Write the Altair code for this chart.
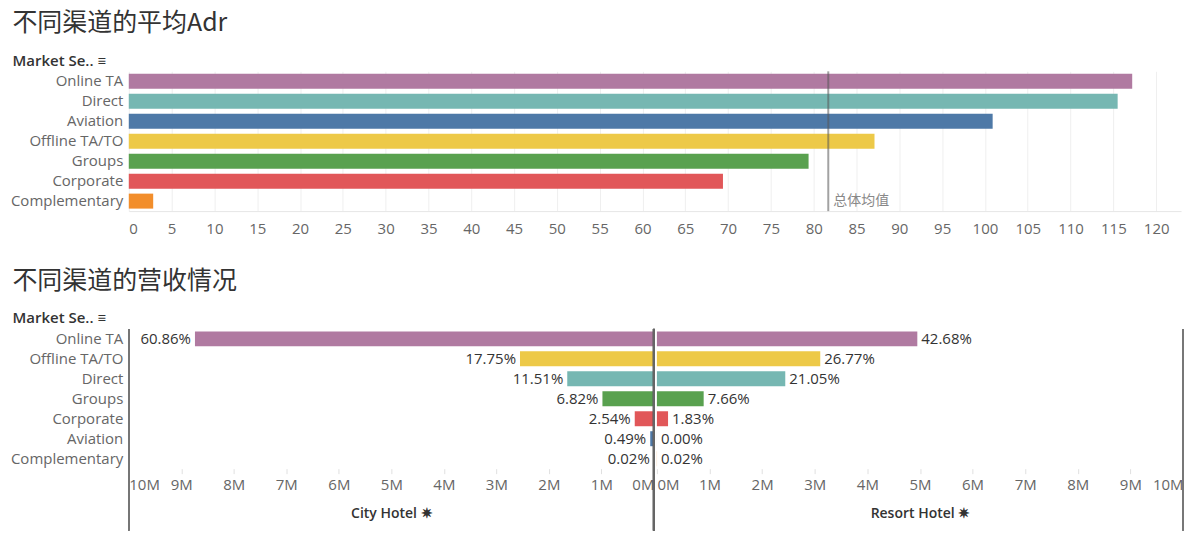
import altair as alt
import pandas as pd

# ---------------- data ----------------
adr_segments = ["Online TA", "Direct", "Aviation", "Offline TA/TO", "Groups", "Corporate", "Complementary"]
adr_values = [117.2, 115.5, 100.9, 87.1, 79.4, 69.4, 2.85]
adr_mean = [81.7]
adr_ticks = list(range(0, 121, 5))

rev_segments = ["Online TA", "Offline TA/TO", "Direct", "Groups", "Corporate", "Aviation", "Complementary"]
city_revenue = [8740000, 2550000, 1650000, 980000, 365000, 70000, 3000]
resort_revenue = [4950000, 3105000, 2440000, 889000, 212000, 400, 2300]
city_pct = ["60.86%", "17.75%", "11.51%", "6.82%", "2.54%", "0.49%", "0.02%"]
resort_pct = ["42.68%", "26.77%", "21.05%", "7.66%", "1.83%", "0.00%", "0.02%"]
rev_ticks = [0, 1000000, 2000000, 3000000, 4000000, 5000000, 6000000, 7000000, 8000000, 9000000, 10000000]

seg_colors = ["#b07aa1", "#76b7b2", "#4e79a7", "#edc948", "#59a14f", "#e15759", "#f28e2b"]

FONT = "Open Sans"
CJK = "Noto Sans CJK SC"

color_scale = alt.Scale(domain=adr_segments, range=seg_colors)

# ---------------- top chart ----------------
top_df = pd.DataFrame({"seg": adr_segments, "adr": adr_values})
mean_df = pd.DataFrame({"m": adr_mean})

y_axis_common = dict(
    title="Market Se.. \u2261", titleAngle=0, titleAlign="left", titleBaseline="middle",
    titleX=-117, titleY=-11, titleFontSize=15, titleFontWeight=600, titleColor="#333333",
    titleFont=FONT, labelFont=FONT, labelFontSize=15, labelColor="#666666", labelPadding=6,
    ticks=False, domain=False, grid=False,
)

y_top = alt.Y("seg:N", sort=adr_segments,
              scale=alt.Scale(paddingInner=0.25, paddingOuter=0.125),
              axis=alt.Axis(**y_axis_common))

x_top = alt.X("adr:Q", scale=alt.Scale(domain=[0, 122.9], nice=False, zero=True),
              axis=alt.Axis(values=adr_ticks, title=None, labelFont=FONT, labelFontSize=15,
                            labelColor="#666666", grid=True, gridColor="#efefef", domainColor="#e6e6e6",
                            ticks=False, labelPadding=10, labelFlush=True))

top_bars = alt.Chart(top_df).mark_bar().encode(
    x=x_top, y=y_top,
    color=alt.Color("seg:N", scale=color_scale, legend=None),
)
top_rule = alt.Chart(mean_df).mark_rule(color="#555555", strokeWidth=2, opacity=0.55).encode(x="m:Q")
top_txt = alt.Chart(mean_df).mark_text(text="总体均值", align="left", baseline="middle", dx=5,
                                       font=CJK, fontSize=14, color="#888888").encode(
    x="m:Q", y=alt.datum("Complementary"))

top = alt.layer(top_bars, top_rule, top_txt).properties(
    width=1054, height=140,
    title=alt.TitleParams("不同渠道的平均Adr", anchor="start", font=CJK, fontSize=25,
                          fontWeight="normal", color="#333333", offset=17, dx=2),
)

# ---------------- bottom chart ----------------
bot_df = pd.DataFrame({"seg": rev_segments, "city": city_revenue, "resort": resort_revenue,
                       "city_pct": city_pct, "resort_pct": resort_pct})

y_bot_left = alt.Y("seg:N", sort=rev_segments,
                   scale=alt.Scale(paddingInner=0.25, paddingOuter=0.125),
                   axis=alt.Axis(**y_axis_common))
y_bot_right = alt.Y("seg:N", sort=rev_segments,
                    scale=alt.Scale(paddingInner=0.25, paddingOuter=0.125), axis=None)

def rev_axis(title):
    return alt.Axis(values=rev_ticks, title=title, labelExpr="datum.value / 1000000 + 'M'",
                    labelFont=FONT, labelFontSize=15, labelColor="#666666", grid=False,
                    domain=False, ticks=True, tickColor="#e0e0e0", tickSize=5, labelPadding=4,
                    labelFlush=True, titleFont=FONT, titleFontSize=14, titleFontWeight=600,
                    titleColor="#333333", titlePadding=14)

x_left = alt.X("city:Q", scale=alt.Scale(domain=[0, 10000000], nice=False, reverse=True),
               axis=rev_axis("City Hotel  \u2737"))
x_right = alt.X("resort:Q", scale=alt.Scale(domain=[0, 10000000], nice=False),
                axis=rev_axis("Resort Hotel  \u2737"))

left_bars = alt.Chart(bot_df).mark_bar().encode(
    x=x_left, y=y_bot_left, color=alt.Color("seg:N", scale=color_scale, legend=None))
left_txt = alt.Chart(bot_df).mark_text(align="right", baseline="middle", dx=-4, font=FONT,
                                       fontSize=15, color="#333333").encode(
    x="city:Q", y=alt.Y("seg:N", sort=rev_segments), text="city_pct:N")
left_edge = alt.Chart(bot_df).mark_rule(color="#777777", strokeWidth=1.5).encode(
    x=alt.value(0), y=alt.value(0), y2=alt.value(202))
center_line = alt.Chart(bot_df).mark_rule(color="#666666", strokeWidth=2).encode(
    x=alt.datum(0), y=alt.value(0), y2=alt.value(202))

left = alt.layer(left_bars, left_txt, left_edge, center_line).properties(width=526, height=140)

right_bars = alt.Chart(bot_df).mark_bar().encode(
    x=x_right, y=y_bot_right, color=alt.Color("seg:N", scale=color_scale, legend=None))
right_txt = alt.Chart(bot_df).mark_text(align="left", baseline="middle", dx=4, font=FONT,
                                        fontSize=15, color="#333333").encode(
    x="resort:Q", y=alt.Y("seg:N", sort=rev_segments), text="resort_pct:N")
right_edge = alt.Chart(bot_df).mark_rule(color="#777777", strokeWidth=1.5).encode(
    x=alt.value(527), y=alt.value(0), y2=alt.value(202))

right = alt.layer(right_bars, right_txt, right_edge).properties(width=527, height=140)

bottom = alt.hconcat(left, right, spacing=1).properties(
    title=alt.TitleParams("不同渠道的营收情况", anchor="start", font=CJK, fontSize=25,
                          fontWeight="normal", color="#333333", offset=17, dx=2))

chart = alt.vconcat(top, bottom, spacing=33).properties(
    padding={"left": 2, "top": 3, "right": 0, "bottom": 0}
).configure_view(stroke=None)

chart.save("out.html", embed_options={"renderer": "svg", "actions": False})
